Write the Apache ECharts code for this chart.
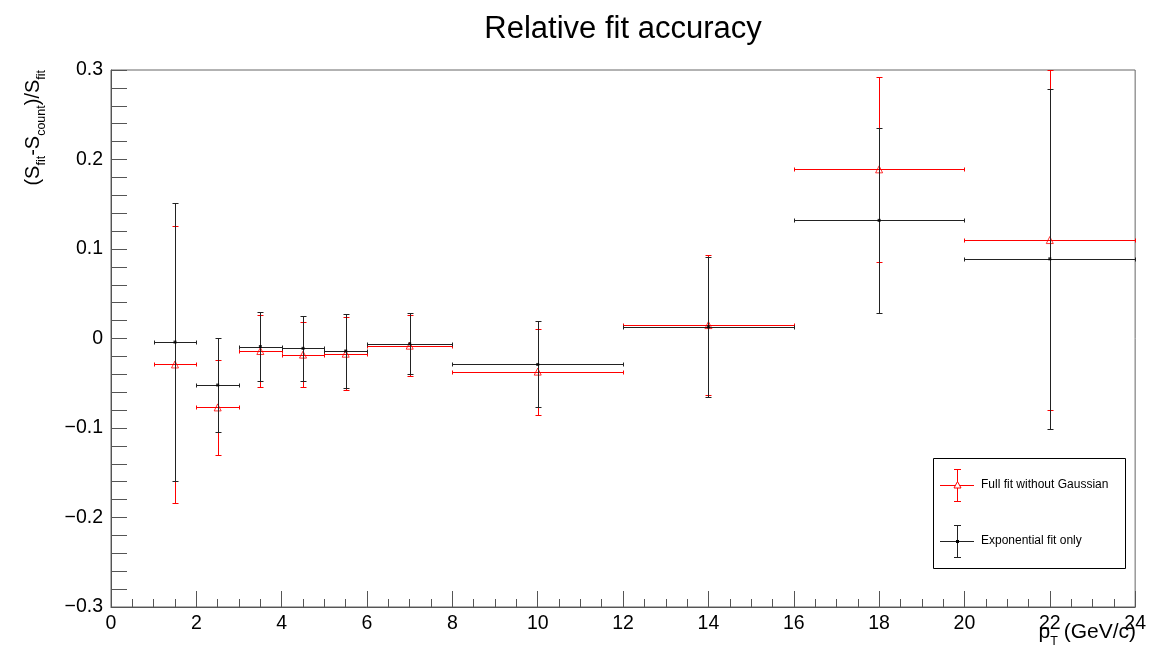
<!DOCTYPE html>
<html>
<head>
<meta charset="utf-8">
<script src="https://cdn.jsdelivr.net/npm/echarts@6/dist/echarts.min.js"></script>
<style>
html,body{margin:0;padding:0;background:#fff;}
#chart{width:1149px;height:655px;}
</style>
</head>
<body>
<div id="chart"></div>
<script>
// ---- data ----
const chartTitle = 'Relative fit accuracy';
const seriesNames = ['Full fit without Gaussian', 'Exponential fit only'];
const ptCenters    = [1.5, 2.5, 3.5, 4.5, 5.5, 7, 10, 14, 18, 22];
const ptHalfWidths = [0.5, 0.5, 0.5, 0.5, 0.5, 1, 2, 2, 2, 2];
const fullFitValues = [-0.029, -0.077, -0.014, -0.018, -0.017, -0.008, -0.037, 0.015, 0.189, 0.110];
const fullFitErrors = [0.155, 0.053, 0.040, 0.036, 0.041, 0.034, 0.048, 0.078, 0.103, 0.190];
const expFitValues  = [-0.004, -0.052, -0.009, -0.011, -0.014, -0.006, -0.029, 0.013, 0.132, 0.089];
const expFitErrors  = [0.155, 0.053, 0.039, 0.036, 0.041, 0.034, 0.048, 0.078, 0.103, 0.190];
const xTickValues = [0, 2, 4, 6, 8, 10, 12, 14, 16, 18, 20, 22, 24];
const xTickLabels = ['0', '2', '4', '6', '8', '10', '12', '14', '16', '18', '20', '22', '24'];
const yTickValues = [-0.3, -0.2, -0.1, 0, 0.1, 0.2, 0.3];
const yTickLabels = ['\u22120.3', '\u22120.2', '\u22120.1', '0', '0.1', '0.2', '0.3'];
// axis titles: [text, isSubscript]
const yTitleParts = [['(S', false], ['fit', true], ['-S', false], ['count', true], [')/S', false], ['fit', true]];
const xTitleParts = [['p', false], ['T', true], [' (GeV/c)', false]];

const FONT = '"Liberation Sans", Arial, Helvetica, sans-serif';
const RED = '#ff0000';
const BLACK = '#222222';

function lookupLabel(values, labels, v) {
  for (let i = 0; i < values.length; i++) {
    if (Math.abs(values[i] - v) < 1e-9) return labels[i];
  }
  return '';
}

function buildErrData(vals, errs) {
  return ptCenters.map((x, i) => [x, vals[i], ptHalfWidths[i], errs[i]]);
}
function buildPointData(vals) {
  return ptCenters.map((x, i) => [x, vals[i]]);
}

function snap(v) { return Math.round(v) + 0.5; }

function errRenderer(color) {
  return function (params, api) {
    const x = api.value(0), y = api.value(1), xe = api.value(2), ye = api.value(3);
    const c = api.coord([x, y]);
    const l = api.coord([x - xe, y]);
    const r = api.coord([x + xe, y]);
    const t = api.coord([x, y + ye]);
    const b = api.coord([x, y - ye]);
    const cy = snap(c[1]), cx = snap(c[0]);
    const st = { stroke: color, lineWidth: 1 };
    const mk = (x1, y1, x2, y2) => ({ type: 'line', shape: { x1, y1, x2, y2 }, style: st });
    const capH = 2, capW = 3;
    const lx = snap(l[0]), rx = snap(r[0]), ty = snap(t[1]), by = snap(b[1]);
    return {
      type: 'group',
      children: [
        mk(lx, cy, rx, cy),
        mk(lx, cy - capH, lx, cy + capH),
        mk(rx, cy - capH, rx, cy + capH),
        mk(cx, ty, cx, by),
        mk(cx - capW, ty, cx + capW, ty),
        mk(cx - capW, by, cx + capW, by)
      ]
    };
  };
}

// lay out text with subscripts; (x,y) = right end of the baseline
const measureCtx = document.createElement('canvas').getContext('2d');
function subscriptText(parts, x, y, rotation, mainSize, subSize, subDrop) {
  const widths = parts.map(([t, sub]) => {
    measureCtx.font = (sub ? subSize : mainSize) + 'px ' + FONT;
    return measureCtx.measureText(t).width;
  });
  const total = widths.reduce((a, b) => a + b, 0);
  let off = -total;
  const children = parts.map(([t, sub], i) => {
    const sz = sub ? subSize : mainSize;
    const el = {
      type: 'text', x: off, y: Math.round(0.212 * sz) + (sub ? subDrop : 0),
      style: {
        text: t, font: sz + 'px ' + FONT, fill: '#000',
        align: 'left', verticalAlign: 'bottom'
      }
    };
    off += widths[i];
    return el;
  });
  return { type: 'group', x, y, rotation, children };
}

const chart = echarts.init(document.getElementById('chart'), null, { renderer: 'canvas' });

function legendEntry(cy, color, markerShape, name) {
  const cx = 957;
  const st = { stroke: color, lineWidth: 1 };
  return [
    { type: 'line', shape: { x1: 940, y1: cy + 0.5, x2: 974, y2: cy + 0.5 }, style: st },
    { type: 'line', shape: { x1: cx + 0.5, y1: cy - 16, x2: cx + 0.5, y2: cy + 17 }, style: st },
    { type: 'line', shape: { x1: cx - 3, y1: cy - 15.5, x2: cx + 4, y2: cy - 15.5 }, style: st },
    { type: 'line', shape: { x1: cx - 3, y1: cy + 16.5, x2: cx + 4, y2: cy + 16.5 }, style: st },
    markerShape,
    { type: 'text', x: 981, y: cy, style: { text: name, font: '12px ' + FONT, fill: '#000', align: 'left', verticalAlign: 'middle' } }
  ];
}

const graphics = [
  { type: 'rect', shape: { x: 933.5, y: 458.5, width: 192, height: 110 },
    style: { fill: '#fff', stroke: '#000', lineWidth: 1 }, z: 10 },
  ...legendEntry(485, RED,
    { type: 'polygon', shape: { points: [[957.5, 481.5], [961, 488], [954, 488]] }, style: { fill: '#fff', stroke: RED, lineWidth: 1 } },
    seriesNames[0]).map(g => Object.assign(g, { z: 11 })),
  ...legendEntry(541, BLACK,
    { type: 'rect', shape: { x: 956, y: 540, width: 3, height: 3 }, style: { fill: '#000' } },
    seriesNames[1]).map(g => Object.assign(g, { z: 11 })),
  subscriptText(yTitleParts, 39, 70, Math.PI / 2, 20, 12.5, 6),
  subscriptText(xTitleParts, 1136, 639, 0, 21, 12.5, 6)
];

const option = {
  animation: false,
  backgroundColor: '#ffffff',
  title: {
    text: chartTitle,
    left: 618,
    top: 9,
    textAlign: 'center',
    textStyle: { fontFamily: FONT, fontSize: 31, fontWeight: 'normal', color: '#000' }
  },
  grid: {
    left: 111, right: 12, top: 70, bottom: 48,
    show: true, borderColor: '#666', borderWidth: 1, backgroundColor: 'transparent'
  },
  xAxis: {
    type: 'value', min: 0, max: 24, interval: 2,
    axisLine: { show: true, onZero: false, lineStyle: { color: '#555', width: 1 } },
    axisTick: { show: true, inside: true, length: 16, lineStyle: { color: '#555' } },
    minorTick: { show: true, splitNumber: 4, length: 8, lineStyle: { color: '#555' } },
    splitLine: { show: false },
    axisLabel: {
      margin: 7, fontSize: 19.5, fontFamily: FONT, color: '#000',
      formatter: v => lookupLabel(xTickValues, xTickLabels, v)
    }
  },
  yAxis: {
    type: 'value', min: -0.3, max: 0.3, interval: 0.1,
    axisLine: { show: true, onZero: false, lineStyle: { color: '#555', width: 1 } },
    axisTick: { show: true, inside: true, length: 16, lineStyle: { color: '#555' } },
    minorTick: { show: true, splitNumber: 5, length: 16, lineStyle: { color: '#555' } },
    splitLine: { show: false },
    axisLabel: {
      margin: 8, fontSize: 19.5, fontFamily: FONT, color: '#000',
      formatter: v => lookupLabel(yTickValues, yTickLabels, v)
    }
  },
  series: [
    { name: seriesNames[0] + ' errors', type: 'custom', renderItem: errRenderer(RED),
      data: buildErrData(fullFitValues, fullFitErrors), clip: true, z: 2, silent: true },
    { name: seriesNames[0], type: 'scatter', symbol: 'triangle', symbolSize: 7,
      itemStyle: { color: 'rgba(255,255,255,0)', borderColor: RED, borderWidth: 1 },
      data: buildPointData(fullFitValues), z: 3, silent: true },
    { name: seriesNames[1] + ' errors', type: 'custom', renderItem: errRenderer(BLACK),
      data: buildErrData(expFitValues, expFitErrors), clip: true, z: 4, silent: true },
    { name: seriesNames[1], type: 'scatter', symbol: 'rect', symbolSize: 3,
      itemStyle: { color: '#000' },
      data: buildPointData(expFitValues), z: 5, silent: true }
  ],
  graphic: graphics
};
chart.setOption(option);
</script>
</body>
</html>
